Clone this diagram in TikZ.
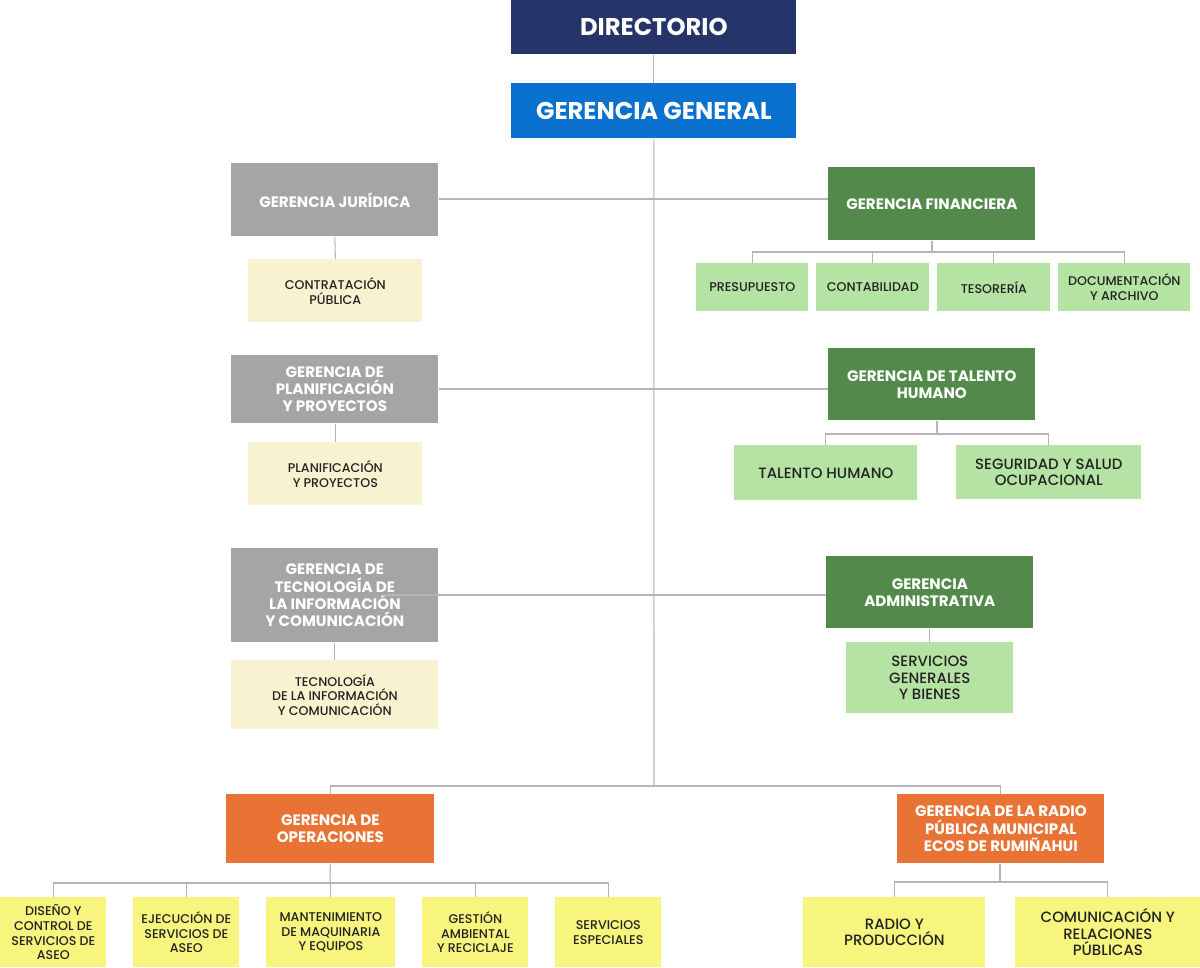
\documentclass[tikz,border=0pt]{standalone}
\usepackage{fontspec}
\setmainfont{Poppins}
\newfontfamily\medfont{Poppins Medium}
\definecolor{navy}{HTML}{253569}
\definecolor{gblue}{HTML}{0B71CE}
\definecolor{ggrey}{HTML}{A5A5A5}
\definecolor{ggreen}{HTML}{538A4C}
\definecolor{lgreen}{HTML}{B4E3A3}
\definecolor{cream}{HTML}{F8F2D0}
\definecolor{orng}{HTML}{E97334}
\definecolor{yell}{HTML}{F8F57F}
\definecolor{lin}{HTML}{B5B5B5}
\definecolor{dtext}{HTML}{222222}
\newcommand\obox[7]{\node[#1, minimum width={(#4-#2)*0.02cm}, minimum height={(#5-#3)*0.02cm}, anchor=north west] (#6) at (#2,#3) {#7};}
\tikzset{
  base/.style={inner sep=0pt, align=center, draw=none},
  top/.style={base, text=white, font=\fontsize{13.8}{15}\selectfont\bfseries},
  mgr/.style={base, text=white, font=\fontsize{8.6}{9.8}\selectfont\bfseries},
  sub/.style={base, text=dtext, font=\medfont\fontsize{7.2}{8.3}\selectfont},
  subl/.style={base, text=dtext, font=\medfont\fontsize{8.5}{9.3}\selectfont},
  conn/.style={draw=lin, line width=0.6pt},
}
\begin{document}
\begin{tikzpicture}[x=0.02cm, y=-0.02cm]
\useasboundingbox[fill=white] (0,0) rectangle (1200,967);
% top
\obox{top, fill=navy}{511}{0}{796}{54}{dir}{DIRECTORIO}
\obox{top, fill=gblue}{511}{83}{796}{138}{gg}{GERENCIA GENERAL}
% left managers
\obox{mgr, fill=ggrey}{231}{163}{438}{236}{jur}{GERENCIA JURÍDICA}
\obox{sub, fill=cream}{248}{259}{422}{322}{cp}{CONTRATACIÓN\\PÚBLICA}
\obox{mgr, fill=ggrey}{231}{355}{438}{423}{plan}{GERENCIA DE\\PLANIFICACIÓN\\Y PROYECTOS}
\obox{sub, fill=cream}{248}{442}{422}{505}{pp}{PLANIFICACIÓN\\Y PROYECTOS}
\obox{mgr, fill=ggrey}{231}{548}{438}{642}{tic}{GERENCIA DE\\TECNOLOGÍA DE\\LA INFORMACIÓN\\Y COMUNICACIÓN}
\obox{sub, fill=cream}{231}{660}{438}{729}{tics}{TECNOLOGÍA\\DE LA INFORMACIÓN\\Y COMUNICACIÓN}
% right managers
\obox{mgr, fill=ggreen}{828}{167}{1035}{240}{fin}{GERENCIA FINANCIERA}
\obox{sub, fill=lgreen}{696}{263}{808}{311}{pre}{PRESUPUESTO}
\obox{sub, fill=lgreen}{816}{263}{929}{311}{con}{CONTABILIDAD}
\obox{sub, fill=lgreen}{937}{263}{1050}{311}{tes}{TESORERÍA}
\obox{sub, fill=lgreen}{1058}{263}{1190}{311}{doc}{DOCUMENTACIÓN\\Y ARCHIVO}
\obox{mgr, fill=ggreen}{828}{348}{1035}{420}{th}{GERENCIA DE TALENTO\\HUMANO}
\obox{subl, fill=lgreen}{734}{445}{917}{500}{thu}{TALENTO HUMANO}
\obox{subl, fill=lgreen}{956}{445}{1141}{499}{seg}{SEGURIDAD Y SALUD\\OCUPACIONAL}
\obox{mgr, fill=ggreen}{826}{556}{1033}{628}{adm}{GERENCIA\\ADMINISTRATIVA}
\obox{subl, fill=lgreen}{846}{642}{1013}{713}{sgb}{SERVICIOS\\GENERALES\\Y BIENES}
% bottom
\obox{mgr, fill=orng}{226}{794}{434}{863}{ops}{GERENCIA DE\\OPERACIONES}
\obox{mgr, fill=orng}{897}{794}{1104}{863}{rad}{GERENCIA DE LA RADIO\\PÚBLICA MUNICIPAL\\ECOS DE RUMIÑAHUI}
\obox{sub, fill=yell}{0}{897}{106}{967}{dis}{DISEÑO Y\\CONTROL DE\\SERVICIOS DE\\ASEO}
\obox{sub, fill=yell}{133}{897}{239}{967}{eje}{EJECUCIÓN DE\\SERVICIOS DE\\ASEO}
\obox{sub, fill=yell}{266}{897}{395}{967}{man}{MANTENIMIENTO\\DE MAQUINARIA\\Y EQUIPOS}
\obox{sub, fill=yell}{422}{897}{528}{967}{ges}{GESTIÓN\\AMBIENTAL\\Y RECICLAJE}
\obox{sub, fill=yell}{555}{897}{661}{967}{ses}{SERVICIOS\\ESPECIALES}
\obox{subl, fill=yell}{803}{897}{985}{967}{ryp}{RADIO Y\\PRODUCCIÓN}
\obox{subl, fill=yell}{1015}{897}{1200}{967}{crp}{COMUNICACIÓN Y\\RELACIONES\\PÚBLICAS}
% junctions
\coordinate (jb) at (654,786);
\coordinate (ticin) at (383,595);
\coordinate (jfin) at (932,252);
\coordinate (jth) at (937,434);
\coordinate (jops) at (330,883);
\coordinate (jrad) at (1000,882);
% connectors
\draw[conn] (dir.south) -- (gg.north);
\draw[conn] (gg.south) -- (jb);
\draw[conn] (ops.north) |- (jb) -| (rad.north);
\draw[conn] (jur.east |- 0,199) -- (fin.west |- 0,199);
\draw[conn] (plan.east |- 0,389) -- (th.west |- 0,389);
\draw[conn] (ticin) -- (adm.west |- ticin);
\draw[conn] (jur.south) -- (cp.north);
\draw[conn] (plan.south -| pp.north) -- (pp.north);
\draw[conn] (tic.south) -- (tics.north);
\draw[conn] (fin.south -| jfin) -- (jfin);
\draw[conn] (pre.north) |- (jfin) -| (doc.north);
\draw[conn] (con.north) -- (con.north |- jfin);
\draw[conn] (tes.north) -- (tes.north |- jfin);
\draw[conn] (th.south -| jth) -- (jth);
\draw[conn] (thu.north) |- (jth) -| (seg.north);
\draw[conn] (adm.south -| sgb.north) -- (sgb.north);
\draw[conn] (ops.south) -- (jops);
\draw[conn] (dis.north) |- (jops) -| (ses.north);
\draw[conn] (eje.north) -- (eje.north |- jops);
\draw[conn] (man.north) -- (man.north |- jops);
\draw[conn] (ges.north) -- (ges.north |- jops);
\draw[conn] (rad.south -| jrad) -- (jrad);
\draw[conn] (ryp.north) |- (jrad) -| (crp.north);
\end{tikzpicture}
\end{document}
